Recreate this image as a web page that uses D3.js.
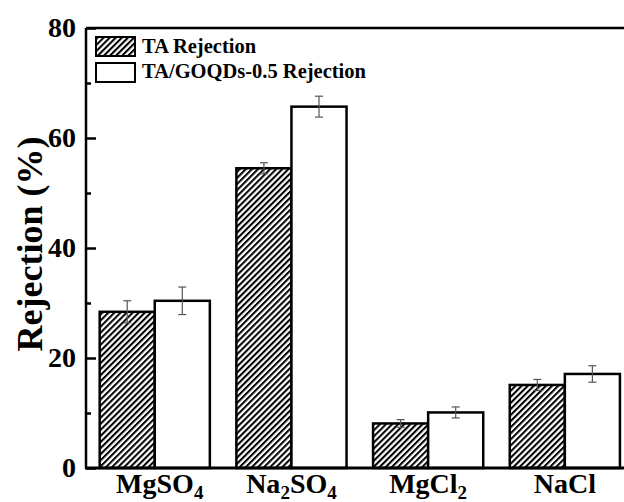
<!DOCTYPE html>
<html>
<head>
<meta charset="utf-8">
<script src="https://cdn.jsdelivr.net/npm/d3@7"></script>
<style>
  html, body { margin: 0; padding: 0; background: #fff; }
  svg { display: block; }
  svg text { font-family: "Liberation Serif", "Times New Roman", Times, "DejaVu Serif", serif; font-weight: 700; }
</style>
</head>
<body>
<svg id="chart" width="624" height="502"></svg>
<script>
// Salt rejection of the two membranes
const salts = [
  { base: "MgSO", sub: "4", tail: "" },
  { base: "Na", sub: "2", tail: "SO", sub2: "4" },
  { base: "MgCl", sub: "2", tail: "" },
  { base: "NaCl", sub: "", tail: "" }
];
const saltKeys = ["MgSO4", "Na2SO4", "MgCl2", "NaCl"];
const seriesNames = ["TA Rejection", "TA/GOQDs-0.5 Rejection"];
const taValues = [28.4, 54.5, 8.1, 15.1];
const taErrors = [2.0, 1.0, 0.7, 1.0];
const goqdValues = [30.4, 65.7, 10.1, 17.1];
const goqdErrors = [2.5, 1.9, 1.0, 1.5];
const yTicks = [0, 20, 40, 60, 80];
const yMinorTicks = [10, 30, 50, 70];

const FONT = "'Liberation Serif', 'Times New Roman', Times, serif";
const svg = d3.select("#chart");
const plotLeft = 86, plotRight = 633.6, plotTop = 28, plotBottom = 468;

const x = d3.scaleBand().domain(saltKeys).range([plotLeft, plotRight])
  .paddingInner(0.194).paddingOuter(0.1);
const xSeries = d3.scaleBand().domain([0, 1]).range([0, x.bandwidth()]);
const y = d3.scaleLinear().domain([0, 80]).range([plotBottom, plotTop]);

// diagonal hatch
const defs = svg.append("defs");
const pat = defs.append("pattern")
  .attr("id", "hatch").attr("patternUnits", "userSpaceOnUse")
  .attr("width", 4.3).attr("height", 4.3)
  .attr("patternTransform", "rotate(45)");
pat.append("rect").attr("width", 4.3).attr("height", 4.3).attr("fill", "#fff");
pat.append("line").attr("x1", 1).attr("y1", 0).attr("x2", 1).attr("y2", 4.3)
  .attr("stroke", "#000").attr("stroke-width", 2.1);

const series = [
  { values: taValues, errors: taErrors, fill: "url(#hatch)" },
  { values: goqdValues, errors: goqdErrors, fill: "#fff" }
];

// bars
series.forEach((s, si) => {
  svg.append("g").selectAll("rect")
    .data(saltKeys)
    .join("rect")
    .attr("x", d => x(d) + xSeries(si))
    .attr("y", (d, i) => y(s.values[i]))
    .attr("width", xSeries.bandwidth())
    .attr("height", (d, i) => y(0) - y(s.values[i]))
    .attr("fill", s.fill)
    .attr("stroke", "#000")
    .attr("stroke-width", 2.5);
});

// error bars
series.forEach((s, si) => {
  const g = svg.append("g").attr("stroke", "#555").attr("stroke-width", 1.2);
  saltKeys.forEach((k, i) => {
    const cx = x(k) + xSeries(si) + xSeries.bandwidth() / 2;
    const y1 = y(s.values[i] + s.errors[i]);
    const y2 = y(s.values[i] - s.errors[i]);
    g.append("line").attr("x1", cx).attr("x2", cx).attr("y1", y1).attr("y2", y2);
    g.append("line").attr("x1", cx - 4).attr("x2", cx + 4).attr("y1", y1).attr("y2", y1);
    g.append("line").attr("x1", cx - 4).attr("x2", cx + 4).attr("y1", y2).attr("y2", y2);
  });
});

// frame: top and bottom lines
svg.append("line").attr("x1", plotLeft).attr("x2", plotRight).attr("y1", plotTop).attr("y2", plotTop)
  .attr("stroke", "#000").attr("stroke-width", 2.5);
svg.append("line").attr("x1", plotLeft - 1).attr("x2", plotRight).attr("y1", plotBottom).attr("y2", plotBottom)
  .attr("stroke", "#000").attr("stroke-width", 3);

// y axis with inward ticks
const yAxis = svg.append("g").attr("transform", `translate(${plotLeft},0)`)
  .call(d3.axisRight(y).tickValues(yTicks).tickSize(10).tickFormat(""));
yAxis.select(".domain").attr("stroke-width", 2.5).attr("d", `M0,${plotTop}V${plotBottom}`);
yAxis.selectAll(".tick line").attr("stroke-width", 2.5);
const yMinor = svg.append("g").attr("transform", `translate(${plotLeft},0)`)
  .call(d3.axisRight(y).tickValues(yMinorTicks).tickSize(5).tickFormat(""));
yMinor.select(".domain").remove();
yMinor.selectAll(".tick line").attr("stroke-width", 2.5);

// y tick labels
svg.append("g").selectAll("text")
  .data(yTicks)
  .join("text")
  .attr("font-family", FONT).attr("font-weight", "bold")
  .attr("x", 76)
  .attr("y", d => y(d))
  .attr("dy", "0.33em")
  .attr("text-anchor", "end")
  .attr("font-size", 28)
  .text(d => d);

// y title
svg.append("text")
  .attr("font-family", FONT).attr("font-weight", "bold")
  .attr("transform", "translate(42,244) rotate(-90)")
  .attr("text-anchor", "middle")
  .attr("font-size", 36)
  .text("Rejection (%)");

// x category labels with subscripts
const xl = svg.append("g").selectAll("text")
  .data(salts)
  .join("text")
  .attr("font-family", FONT).attr("font-weight", "bold")
  .attr("x", (d, i) => x(saltKeys[i]) + x.bandwidth() / 2 + (i === 0 ? 5 : 0))
  .attr("y", 493)
  .attr("text-anchor", "middle")
  .attr("font-size", 28);
xl.each(function (d) {
  const t = d3.select(this);
  t.append("tspan").text(d.base);
  if (d.sub) t.append("tspan").attr("font-size", 19).attr("dy", 6).text(d.sub);
  if (d.tail) t.append("tspan").attr("dy", -6).text(d.tail);
  if (d.sub2) t.append("tspan").attr("font-size", 19).attr("dy", 6).text(d.sub2);
});

// legend
const legend = svg.append("g");
const fills = ["url(#hatch)", "#fff"];
seriesNames.forEach((name, i) => {
  legend.append("rect")
    .attr("x", 96).attr("y", 37 + i * 26)
    .attr("width", 39).attr("height", 19)
    .attr("fill", fills[i]).attr("stroke", "#000").attr("stroke-width", 2);
  legend.append("text")
    .attr("font-family", FONT).attr("font-weight", "bold")
    .attr("x", 142).attr("y", 53 + i * 25)
    .attr("font-size", 20.5)
    .text(name);
});
</script>
</body>
</html>
